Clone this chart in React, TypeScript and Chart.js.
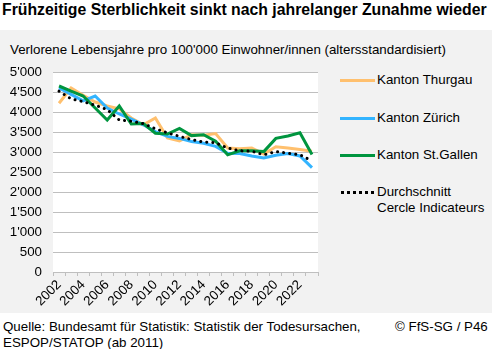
import React, { useEffect, useRef } from 'react';
import { Chart, registerables } from 'chart.js';

Chart.register(...registerables);

const years = ['2002','2003','2004','2005','2006','2007','2008','2009','2010','2011','2012','2013','2014','2015','2016','2017','2018','2019','2020','2021','2022','2023'];
const thurgau = [4220, 4600, 4420, 4250, 4150, 4080, 3850, 3680, 3850, 3350, 3280, 3430, 3420, 3460, 3100, 3080, 3100, 2950, 3130, 3100, 3060, 3020];
const zuerich = [4600, 4440, 4280, 4400, 4100, 3950, 3820, 3680, 3510, 3390, 3340, 3260, 3220, 3140, 2970, 2960, 2900, 2850, 2920, 2960, 2900, 2610];
const stgallen = [4650, 4520, 4400, 4100, 3800, 4150, 3700, 3710, 3470, 3450, 3590, 3410, 3430, 3270, 2930, 3030, 3030, 3010, 3340, 3400, 3480, 2940];
const durchschnitt = [4520, 4330, 4260, 4170, 4060, 3800, 3770, 3710, 3580, 3480, 3390, 3310, 3250, 3230, 3100, 3030, 3020, 2930, 3010, 2970, 2930, 2780];

const yMin = 0;
const yMax = 5000;
const yStep = 500;

const title = 'Frühzeitige Sterblichkeit sinkt nach jahrelanger Zunahme wieder';
const subtitle = "Verlorene Lebensjahre pro 100'000 Einwohner/innen (altersstandardisiert)";
const sourceLines = ['Quelle: Bundesamt für Statistik: Statistik der Todesursachen,', 'ESPOP/STATOP (ab 2011)'];
const copyright = '© FfS-SG / P46';

const ORANGE = '#FFC06E';
const BLUE = '#33B4FF';
const GREEN = '#00953F';
const FONT = "'Liberation Sans', Arial, sans-serif";

const fmt = (v: number) => {
  if (v >= 1000) {
    const t = Math.floor(v / 1000);
    const r = String(v % 1000).padStart(3, '0');
    return `${t}'${r}`;
  }
  return String(v);
};

const bgPlugin = {
  id: 'areaBg',
  beforeDraw(chart: any) {
    const { ctx, chartArea } = chart;
    if (!chartArea) return;
    ctx.save();
    ctx.fillStyle = '#ffffff';
    ctx.fillRect(chartArea.left, chartArea.top, chartArea.right - chartArea.left, chartArea.bottom - chartArea.top);
    ctx.restore();
  },
};

function LineChart() {
  const ref = useRef<HTMLCanvasElement | null>(null);
  useEffect(() => {
    if (!ref.current) return;
    Chart.defaults.font.family = FONT;
    Chart.defaults.color = '#000';
    const chart = new Chart(ref.current, {
      type: 'line',
      data: {
        labels: years,
        datasets: [
          { label: 'Durchschnitt Cercle Indicateurs', data: durchschnitt, borderColor: '#000', borderWidth: 3, borderDash: [0.1, 6], borderCapStyle: 'round', pointRadius: 0, tension: 0, fill: false },
          { label: 'Kanton St.Gallen', data: stgallen, borderColor: GREEN, borderWidth: 3, pointRadius: 0, tension: 0, fill: false },
          { label: 'Kanton Zürich', data: zuerich, borderColor: BLUE, borderWidth: 3, pointRadius: 0, tension: 0, fill: false },
          { label: 'Kanton Thurgau', data: thurgau, borderColor: ORANGE, borderWidth: 3, pointRadius: 0, tension: 0, fill: false },
        ],
      },
      options: {
        animation: false,
        responsive: false,
        maintainAspectRatio: false,
        layout: { padding: { top: 42, left: 0, right: 12, bottom: 0 } },
        plugins: { legend: { display: false }, tooltip: { enabled: false }, title: { display: false } },
        scales: {
          x: {
            type: 'category',
            offset: true,
            grid: { display: true, drawOnChartArea: false, drawTicks: true, tickLength: 4, offset: true, color: '#bfbfbf', lineWidth: 1 },
            border: { display: true, color: '#bfbfbf', width: 1 },
            ticks: {
              autoSkip: false,
              maxRotation: 45,
              minRotation: 45,
              padding: 1,
              font: { size: 13.33, family: FONT },
              color: '#000',
              callback: (_v: any, i: number) => (i % 2 === 0 ? years[i] : ''),
            },
            afterFit: (s: any) => { s.height = 41; s.paddingLeft = 0; s.paddingRight = 0; },
          },
          y: {
            min: yMin,
            max: yMax,
            grid: { color: '#bfbfbf', lineWidth: 1, drawTicks: false },
            border: { display: false },
            ticks: {
              stepSize: yStep,
              padding: 11,
              font: { size: 13.33, family: FONT },
              color: '#000',
              callback: (v: any) => fmt(Number(v)),
            },
            afterFit: (s: any) => { s.width = 53; },
          },
        },
      },
      plugins: [bgPlugin],
    } as any);
    return () => chart.destroy();
  }, []);
  return <canvas ref={ref} width={330} height={283} style={{ display: 'block', width: 330, height: 283 }} />;
}

function LegendItem({ y, color, label }: { y: number; color: string; label: string }) {
  return (
    <div style={{ position: 'absolute', left: 340, top: y - 8, height: 16, display: 'flex', alignItems: 'center' }}>
      <div style={{ width: 35, height: 3, background: color }} />
      <div style={{ marginLeft: 2, fontSize: 13.33, lineHeight: '16px', whiteSpace: 'nowrap' }}>{label}</div>
    </div>
  );
}

export default function App() {
  useEffect(() => {
    document.body.style.margin = '0';
  }, []);
  return (
    <div style={{ position: 'relative', width: 492, height: 349, background: '#fff', fontFamily: FONT, color: '#000', overflow: 'hidden' }}>
      <div style={{ position: 'absolute', left: 2, top: 0, fontSize: 15.8, fontWeight: 'bold', lineHeight: '20px', whiteSpace: 'nowrap' }}>{title}</div>
      <div style={{ position: 'absolute', left: 0, top: 30, width: 492, height: 283, background: '#f2f2f2' }} />
      <div style={{ position: 'absolute', left: 10, top: 42, fontSize: 13.33, lineHeight: '16px', whiteSpace: 'nowrap' }}>{subtitle}</div>
      <div style={{ position: 'absolute', left: 0, top: 30 }}>
        <LineChart />
      </div>
      <LegendItem y={80} color={ORANGE} label="Kanton Thurgau" />
      <LegendItem y={118} color={BLUE} label="Kanton Zürich" />
      <LegendItem y={155} color={GREEN} label="Kanton St.Gallen" />
      <div style={{ position: 'absolute', left: 341, top: 192 - 1.5, width: 33, height: 0, borderTop: '3px dotted #000' }} />
      <div style={{ position: 'absolute', left: 377, top: 184, fontSize: 13.33, lineHeight: '16px', whiteSpace: 'nowrap' }}>
        <div>Durchschnitt</div>
        <div>Cercle Indicateurs</div>
      </div>
      <div style={{ position: 'absolute', left: 3, top: 319, fontSize: 13.33, lineHeight: '16px', whiteSpace: 'nowrap' }}>
        {sourceLines.map((l) => <div key={l}>{l}</div>)}
      </div>
      <div style={{ position: 'absolute', left: 395, top: 319, fontSize: 13.33, lineHeight: '16px', whiteSpace: 'nowrap' }}>{copyright}</div>
    </div>
  );
}
